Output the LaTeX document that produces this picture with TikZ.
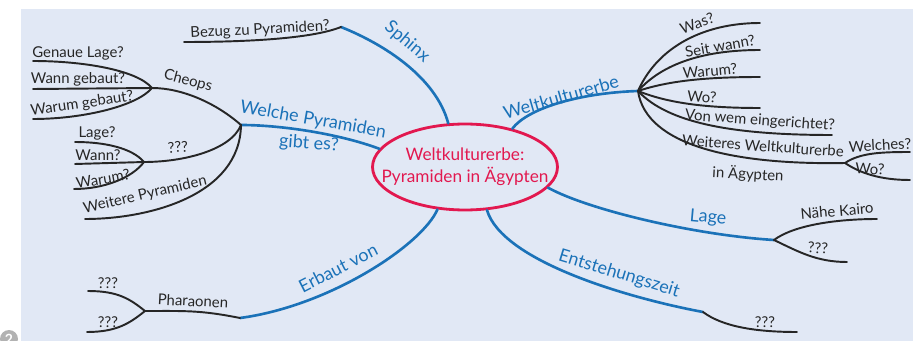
\documentclass[tikz,border=0pt]{standalone}
\usepackage{fontspec}
\setmainfont{Lato}
\usetikzlibrary{shapes.geometric}

\definecolor{mapbg}{HTML}{E1E8F5}
\definecolor{mapblue}{HTML}{1B72B8}
\definecolor{mapred}{HTML}{E2184F}

\begin{document}
\begin{tikzpicture}[
  x=0.02cm, y=-0.02cm,  % one unit = one pixel of the sketch, y runs down
  every path/.style={line cap=round, line join=round},
  twig/.style={draw=black!85, line width=1.1pt},
  limb/.style={draw=mapblue, line width=1.5pt},
  leaf/.style={font=\fontsize{8.5}{10}\selectfont, inner sep=0pt, text=black!85},
  limblabel/.style={font=\fontsize{10.2}{12}\selectfont, inner sep=0pt, text=mapblue}
]

% ---------------- Sheet ----------------
\useasboundingbox (0,0) rectangle (913,341);
\fill[mapbg] (21,9) rectangle (913,341);
\fill[gray!60] (9,339) circle (9);
\node[font=\bfseries\fontsize{8}{8}\selectfont, text=white, inner sep=0pt] (pagemark) at (9,339) {2};

% ---------------- Centre ----------------
\node[ellipse, draw=mapred, line width=1.6pt, inner sep=0pt,
      minimum width=3.70cm, minimum height=1.72cm] (hub) at (465,167) {};
\node[align=center, text=mapred, inner sep=0pt, font=\fontsize{9.8}{12.5}\selectfont] (hubtext) at (hub.center)
  {Weltkulturerbe:\\Pyramiden in Ägypten};

% ---------------- Branch ends ----------------
\coordinate (sphinx) at (341,27);
\coordinate (bezug)  at (184,42);
\coordinate (wke)    at (638,91);
\coordinate (was)    at (760,23);
\coordinate (seit)   at (760,50);
\coordinate (warum)  at (760,77);
\coordinate (wo)     at (760,108);
\coordinate (vonwem) at (832,135);
\coordinate (weiter) at (845,163);
\coordinate (welches) at (910,152);
\coordinate (wo2)    at (910,180);
\coordinate (lage)   at (774,240);
\coordinate (kairo)  at (877,219);
\coordinate (lageq)  at (847,262);
\coordinate (entst)  at (703,312);
\coordinate (entstq) at (797,332);
\coordinate (erbaut) at (240,318);
\coordinate (pharao) at (145,311);
\coordinate (pharqa) at (88,291);
\coordinate (pharqb) at (87,332);
\coordinate (welche) at (241,125);
\coordinate (cheops) at (152,88);
\coordinate (genau)  at (33,61);
\coordinate (wanng)  at (33,89);
\coordinate (warumg) at (33,119);
\coordinate (qqq)    at (144,162);
\coordinate (lagep)  at (75,142);
\coordinate (wannp)  at (75,164);
\coordinate (warump) at (74,189);
\coordinate (weitp)  at (85,219);

% ---------------- Main branches (blue) ----------------
\draw[limb] (hub.111) .. controls +(-12,-45) and +(45,18) .. (sphinx);
\draw[limb] (hub.39)  .. controls +(15,-20) and +(-60,2) .. (wke);
\draw[limb] (hub.-14) .. controls +(40,22) and +(-80,-5) .. (lage);
\draw[limb] (hub.-63) .. controls +(15,50) and +(-80,-15) .. (entst);
\draw[limb] (hub.-123) .. controls +(-15,35) and +(90,-12) .. (erbaut);
\draw[limb] (hub.168) .. controls +(-40,-15) and +(40,0) .. (welche);

% ---------------- Twigs (black) ----------------
\draw[twig] (sphinx) .. controls +(-30,12) and +(60,0) .. (bezug);

\draw[twig] (wke) .. controls +(20,-45) and +(-55,0) .. (was);
\draw[twig] (wke) .. controls +(25,-28) and +(-55,0) .. (seit);
\draw[twig] (wke) .. controls +(30,-10) and +(-55,0) .. (warum);
\draw[twig] (wke) .. controls +(30,12) and +(-55,0) .. (wo);
\draw[twig] (wke) .. controls +(30,32) and +(-100,0) .. (vonwem);
\draw[twig] (wke) .. controls +(8,55) and +(-110,2) .. (weiter);
\draw[twig] (weiter) .. controls +(15,-10) and +(-30,0) .. (welches);
\draw[twig] (weiter) .. controls +(15,10) and +(-30,0) .. (wo2);

\draw[twig] (lage) .. controls +(20,-15) and +(-40,0) .. (kairo);
\draw[twig] (lage) .. controls +(25,12) and +(-30,0) .. (lageq);

\draw[twig] (entst) .. controls +(20,15) and +(-40,0) .. (entstq);

\draw[twig] (erbaut) .. controls +(-40,-8) and +(40,0) .. (pharao);
\draw[twig] (pharao) .. controls +(-15,-12) and +(30,0) .. (pharqa);
\draw[twig] (pharao) .. controls +(-15,12) and +(30,0) .. (pharqb);

\draw[twig] (welche) .. controls +(-25,-22) and +(30,0) .. (cheops);
\draw[twig] (cheops) .. controls +(-15,-18) and +(50,0) .. (genau);
\draw[twig] (cheops) -- (wanng);
\draw[twig] (cheops) .. controls +(-15,18) and +(50,0) .. (warumg);
\draw[twig] (welche) .. controls +(-10,25) and +(40,0) .. (qqq);
\draw[twig] (qqq) .. controls +(-12,-14) and +(30,0) .. (lagep);
\draw[twig] (qqq) -- (wannp);
\draw[twig] (qqq) .. controls +(-12,16) and +(30,0) .. (warump);
\draw[twig] (welche) .. controls +(-1,70) and +(65,0) .. (weitp);

% ---------------- Labels ----------------
\node[limblabel, rotate=-40] (lsphinx) at (407,42) {Sphinx};
\node[limblabel, rotate=16]  (lwke)    at (561,97) {Weltkulturerbe};
\node[limblabel, rotate=-5]  (llage)   at (708,218) {Lage};
\node[limblabel, rotate=-17] (lentst)  at (619,274) {Entstehungszeit};
\node[limblabel, rotate=27]  (lerbaut) at (338,268) {Erbaut von};
\node[limblabel, rotate=-10] (lwelche) at (313,120) {Welche Pyramiden};
\node[limblabel, rotate=-4]  (lgibt)   at (309,144) {gibt es?};

\node[leaf, rotate=3]  (tbezug)  at (260,30)  {Bezug zu Pyramiden?};
\node[leaf, rotate=20] (twas)    at (697,23)  {Was?};
\node[leaf, rotate=10] (tseit)   at (720,46)  {Seit wann?};
\node[leaf, rotate=5]  (twarum)  at (710,71)  {Warum?};
\node[leaf, rotate=-3] (two)     at (702,97)  {Wo?};
\node[leaf, rotate=-4] (tvonwem) at (760,121) {Von wem eingerichtet?};
\node[leaf, rotate=-4] (tweiter) at (763,146) {Weiteres Weltkulturerbe};
\node[leaf, rotate=-3] (tinaeg)  at (748,174) {in Ägypten};
\node[leaf, rotate=3]  (twelches) at (880,145) {Welches?};
\node[leaf, rotate=-3] (two2)    at (870,169) {Wo?};
\node[leaf, rotate=5]  (tkairo)  at (837,211) {Nähe Kairo};
\node[leaf, rotate=-3] (tlageq)  at (818,248) {???};
\node[leaf]            (tentstq) at (765,322) {???};
\node[leaf, rotate=-3] (tpharao) at (193,301) {Pharaonen};
\node[leaf]            (tpharqa) at (108,283) {???};
\node[leaf]            (tpharqb) at (108,322) {???};
\node[leaf, rotate=-15] (tcheops) at (188,81) {Cheops};
\node[leaf]            (tgenau)  at (78,53)   {Genaue Lage?};
\node[leaf]            (twanng)  at (78,79)   {Wann gebaut?};
\node[leaf, rotate=8]  (twarumg) at (82,104)  {Warum gebaut?};
\node[leaf, rotate=5]  (tqqq)    at (178,147) {???};
\node[leaf]            (tlagep)  at (97,133)  {Lage?};
\node[leaf]            (twannp)  at (98,155)  {Wann?};
\node[leaf, rotate=10] (twarump) at (103,179) {Warum?};
\node[leaf, rotate=13] (tweitp)  at (145,195) {Weitere Pyramiden};

\end{tikzpicture}
\end{document}
